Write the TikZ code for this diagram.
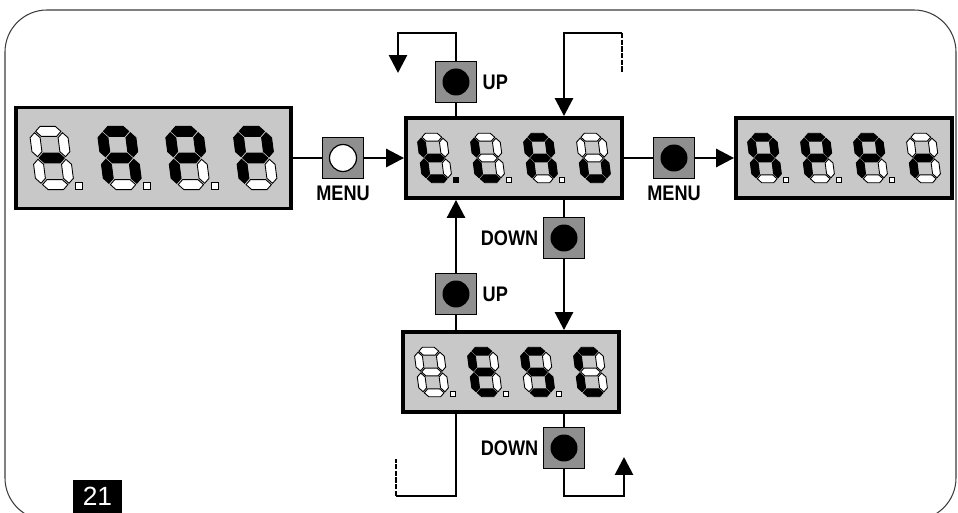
\documentclass[tikz,border=0pt]{standalone}
\usepackage{fontspec}
\newfontfamily\labelfont[FakeStretch=0.86]{Liberation Sans}
\newfontfamily\numfont{Liberation Sans}
\usetikzlibrary{arrows.meta, positioning}

\definecolor{panelgray}{HTML}{C8C8C8}
\definecolor{keygray}{HTML}{8F8F8F}
\definecolor{framegray}{HTML}{3C3C3C}
\colorlet{K}{black}
\colorlet{W}{white}

% segments of one seven-segment digit (horizontal / vertical)
\newcommand{\segH}[2]{\filldraw[fill=#2] (-0.38,#1) -- (-0.23,#1+0.15) -- (0.23,#1+0.15) -- (0.38,#1) -- (0.23,#1-0.15) -- (-0.23,#1-0.15) -- cycle;}
\newcommand{\segV}[3]{\filldraw[fill=#3] (#1,#2+0.04) -- (#1+0.15,#2+0.19) -- (#1+0.15,#2+0.61) -- (#1,#2+0.76) -- (#1-0.15,#2+0.61) -- (#1-0.15,#2+0.19) -- cycle;}
\def\segdraw#1#2#3#4#5#6#7\relax{%
  \segH{0.8}{#1}\segV{0.42}{0}{#2}\segV{0.42}{-0.8}{#3}\segH{-0.8}{#4}%
  \segV{-0.42}{-0.8}{#5}\segV{-0.42}{0}{#6}\segH{0}{#7}}
% digit: position, colours of segments a b c d e f g
\newcommand{\segdigit}[2]{%
  \begin{scope}[shift={#1}, scale=26, yscale=-1, xslant=0.13, line width=0.5pt]
    \segdraw#2\relax
  \end{scope}}
\def\segdots#1#2#3\relax{%
  \foreach \x/\dc in {-58/#1, -5/#2, 48/#3}
    \filldraw[fill=\dc, line width=0.5pt] (\x-2.8,19.2) rectangle (\x+2.8,24.8);}
% whole display: node, size factor, four digits, three dots
\newcommand{\segpanel}[7]{%
  \begin{scope}[shift={(#1.center)}, scale=#2]
    \segdigit{(-79.5,0)}{#3}\segdigit{(-26.5,0)}{#4}%
    \segdigit{(26.5,0)}{#5}\segdigit{(79.5,0)}{#6}%
    \segdots#7\relax
  \end{scope}}

\begin{document}
\begin{tikzpicture}[x=0.02cm, y=-0.02cm, >={Triangle[length=0.36cm, width=0.36cm]},
  panel/.style={rectangle, draw, line width=2.2pt, fill=panelgray, minimum width=4.32cm, minimum height=1.6cm},
  pushkey/.style={rectangle, draw, line width=1pt, fill=keygray, minimum size=0.82cm, inner sep=0pt,
    path picture={\fill[black] (path picture bounding box.center) circle (0.27cm);}},
  pushkeyw/.style={pushkey,
    path picture={\filldraw[draw=black, fill=white, line width=0.7pt] (path picture bounding box.center) circle (0.27cm);}},
  lbl/.style={font=\labelfont\bfseries\fontsize{12}{12}\selectfont, inner sep=0pt},
  flow/.style={line width=1.6pt},
  cut/.style={line width=1.7pt, dash pattern=on 3pt off 0.8pt}]

  \useasboundingbox (0,0) rectangle (958,513);
  \clip (0,0) rectangle (958,513);
  \draw[framegray, line width=0.6pt, rounded corners=0.84cm] (5,10) rectangle (956,520);

  \node[panel, minimum width=5.5cm, minimum height=2.02cm] (dApp) at (153.5,158) {};
  \node[pushkeyw] (menuA) at (343,158) {};
  \node[panel] (dTlau) at (514,158) {};
  \node[pushkey] (menuB) at (674,158) {};
  \node[panel] (dAppr) at (844,158) {};
  \node[pushkey] (upA) at (456,82) {};
  \node[pushkey] (downA) at (564,238) {};
  \node[pushkey] (upB) at (456,294) {};
  \node[panel] (dEsc) at (511,372) {};
  \node[pushkey] (downB) at (564,448) {};

  \node[lbl, below=0.12cm of menuA] (menuAtxt) {MENU};
  \node[lbl, below=0.12cm of menuB] (menuBtxt) {MENU};
  \node[lbl, right=0.1cm of upA] (upAtxt) {UP};
  \node[lbl, right=0.1cm of upB] (upBtxt) {UP};
  \node[lbl, left=0.08cm of downA] (downAtxt) {DOWN};
  \node[lbl, left=0.08cm of downB] (downBtxt) {DOWN};

  \node[fill=black, text=white, font=\numfont\fontsize{15}{15}\selectfont,
    minimum width=0.98cm, minimum height=0.66cm, inner sep=0pt] (figno) at (97.5,496.5) {21};

  \segpanel{dApp}{1.28}{WWWWWWK}{KKKWKKK}{KKWWKKK}{KKWWKKK}{WWW}
  \segpanel{dTlau}{1}{WWWKKKK}{WWWKKKW}{KKKWKKK}{WWKKKWW}{KWW}
  \segpanel{dAppr}{1}{KKKWKKK}{KKWWKKK}{KKWWKKK}{WWWWKWK}{WWW}
  \segpanel{dEsc}{1}{WWWWWWW}{KWWKKKK}{KWKKWKK}{KWWKKKW}{WWW}

  \coordinate (topA) at (398,33);
  \coordinate (backA) at (398,73);
  \coordinate (topB) at (622,33);
  \coordinate (cutA) at (622,72);
  \coordinate (botB) at (396,496);
  \coordinate (cutB) at (396,459);
  \coordinate (botC) at (624,496);
  \coordinate (backC) at (624,457);

  \draw[flow] (dApp.east) -- (menuA.west);
  \draw[flow, ->] (menuA.east) -- (dTlau.west);
  \draw[flow] (dTlau.east) -- (menuB.west);
  \draw[flow, ->] (menuB.east) -- (dAppr.west);

  \draw[flow, ->] (upA.north) |- (topA) -- (backA);
  \draw[flow] (upA.south) -- (upA |- dTlau.north);
  \draw[flow, ->] (topB) -| (downA |- dTlau.north);
  \draw[cut] (topB) -- (cutA);

  \draw[flow] (downA |- dTlau.south) -- (downA.north);
  \draw[flow, ->] (downA.south) -- (downA |- dEsc.north);
  \draw[flow, ->] (upB.north) -- (upB |- dTlau.south);
  \draw[flow] (upB |- dEsc.north) -- (upB.south);

  \draw[flow] (upB |- dEsc.south) |- (botB);
  \draw[cut] (botB) -- (cutB);
  \draw[flow] (downB |- dEsc.south) -- (downB.north);
  \draw[flow, ->] (downB.south) |- (botC) -- (backC);

\end{tikzpicture}
\end{document}
